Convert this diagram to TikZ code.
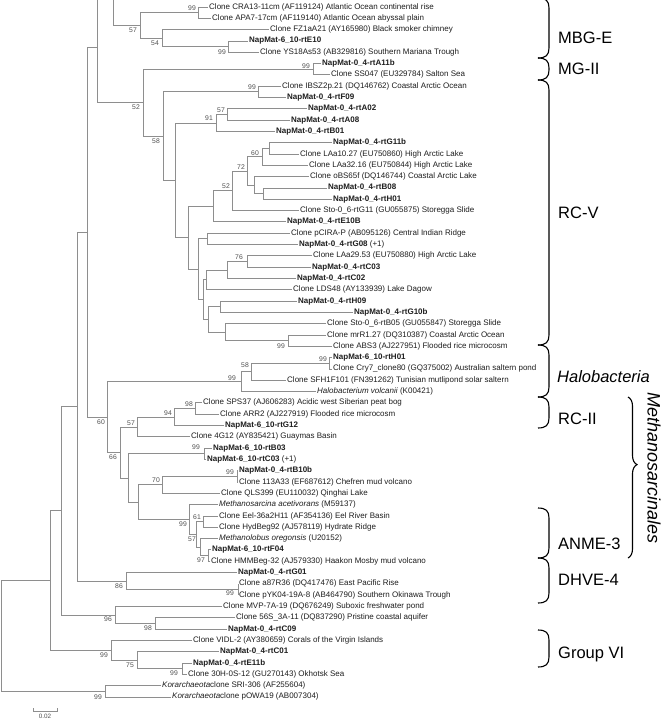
\documentclass[tikz,border=0pt]{standalone}
\usepackage{fontspec}
\setmainfont{Liberation Sans}
\usetikzlibrary{decorations.pathreplacing}
\definecolor{branch}{HTML}{8E8E8E}
\definecolor{labtxt}{HTML}{1E1E1E}
\definecolor{bstxt}{HTML}{505050}
\begin{document}
\begin{tikzpicture}[x=1pt,y=-1pt,
  br/.style={draw=branch, line width=0.8pt},
  leaf/.style={anchor=west, inner sep=1pt, font=\fontsize{8}{9}\selectfont, text=labtxt},
  nap/.style={leaf, font=\fontsize{8}{9}\selectfont\bfseries},
  bs/.style={anchor=east, inner sep=0pt, font=\fontsize{6.8}{7}\selectfont, text=bstxt},
  grp/.style={anchor=west, inner sep=0pt, font=\fontsize{16.5}{17}\selectfont, text=black},
  brk/.style={draw=black, line width=1.1pt},
  sbar/.style={draw=branch, line width=0.7pt}]
\useasboundingbox (0,0) rectangle (664,721);
\clip (0,0) rectangle (664,721);
\fill[white] (0,0) rectangle (664,721);

% ---------------- leaves ----------------
\node[leaf] (L1)  at (208,7)      {Clone CRA13-11cm (AF119124) Atlantic Ocean continental rise};
\node[leaf] (L2)  at (211,18.31)  {Clone APA7-17cm (AF119140) Atlantic Ocean abyssal plain};
\node[leaf] (L3)  at (269,29.62)  {Clone FZ1aA21 (AY165980) Black smoker chimney};
\node[nap]  (L4)  at (248,40.93)  {NapMat-6\_10-rtE10};
\node[leaf] (L5)  at (259,52.24)  {Clone YS18As53 (AB329816) Southern Mariana Trough};
\node[nap]  (L6)  at (321,63.55)  {NapMat-0\_4-rtA11b};
\node[leaf] (L7)  at (330,74.86)  {Clone SS047 (EU329784) Salton Sea};
\node[leaf] (L8)  at (281,86.17)  {Clone IBSZ2p.21 (DQ146762) Coastal Arctic Ocean};
\node[nap]  (L9)  at (286,97.48)  {NapMat-0\_4-rtF09};
\node[nap]  (L10) at (307,108.79) {NapMat-0\_4-rtA02};
\node[nap]  (L11) at (290,120.1)  {NapMat-0\_4-rtA08};
\node[nap]  (L12) at (275,131.41) {NapMat-0\_4-rtB01};
\node[nap]  (L13) at (332,142.72) {NapMat-0\_4-rtG11b};
\node[leaf] (L14) at (299,154.03) {Clone LAa10.27 (EU750860) High Arctic Lake};
\node[leaf] (L15) at (308,165.34) {Clone LAa32.16 (EU750844) High Arctic Lake};
\node[leaf] (L16) at (309,176.65) {Clone oBS65f (DQ146744) Coastal Arctic Lake};
\node[nap]  (L17) at (327,187.96) {NapMat-0\_4-rtB08};
\node[nap]  (L18) at (332,199.27) {NapMat-0\_4-rtH01};
\node[leaf] (L19) at (299,210.58) {Clone Sto-0\_6-rtG11 (GU055875) Storegga Slide};
\node[nap]  (L20) at (286,221.89) {NapMat-0\_4-rtE10B};
\node[leaf] (L21) at (290,233.2)  {Clone pCIRA-P (AB095126) Central Indian Ridge};
\node[leaf] (L22) at (298,244.51) {\textbf{NapMat-0\_4-rtG08} (+1)};
\node[leaf] (L23) at (312,255.82) {Clone LAa29.53 (EU750880) High Arctic Lake};
\node[nap]  (L24) at (311,267.13) {NapMat-0\_4-rtC03};
\node[nap]  (L25) at (296,278.44) {NapMat-0\_4-rtC02};
\node[leaf] (L26) at (292,289.75) {Clone LDS48 (AY133939) Lake Dagow};
\node[nap]  (L27) at (297,301.06) {NapMat-0\_4-rtH09};
\node[nap]  (L28) at (353,312.37) {NapMat-0\_4-rtG10b};
\node[leaf] (L29) at (326,323.68) {Clone Sto-0\_6-rtB05 (GU055847) Storegga Slide};
\node[leaf] (L30) at (326,334.99) {Clone mrR1.27 (DQ310387) Coastal Arctic Ocean};
\node[leaf] (L31) at (332,346.3)  {Clone ABS3 (AJ227951) Flooded rice microcosm};
\node[nap]  (L32) at (332,357.61) {NapMat-6\_10-rtH01};
\node[leaf] (L33) at (332,368.92) {Clone Cry7\_clone80 (GQ375002) Australian saltern pond};
\node[leaf] (L34) at (286,380.23) {Clone SFH1F101 (FN391262) Tunisian mutlipond solar saltern};
\node[leaf] (L35) at (316,391.54) {\textit{Halobacterium volcanii} (K00421)};
\node[leaf] (L36) at (202,402.85) {Clone SPS37 (AJ606283) Acidic west Siberian peat bog};
\node[leaf] (L37) at (219,414.16) {Clone ARR2 (AJ227919) Flooded rice microcosm};
\node[nap]  (L38) at (224,425.47) {NapMat-6\_10-rtG12};
\node[leaf] (L39) at (190,436.78) {Clone 4G12 (AY835421) Guaymas Basin};
\node[nap]  (L40) at (212,448.09) {NapMat-6\_10-rtB03};
\node[leaf] (L41) at (206,459.4)  {\textbf{NapMat-6\_10-rtC03} (+1)};
\node[nap]  (L42) at (238,470.71) {NapMat-0\_4-rtB10b};
\node[leaf] (L43) at (238,482.02) {Clone 113A33 (EF687612) Chefren mud volcano};
\node[leaf] (L44) at (220,493.33) {Clone QLS399 (EU110032) Qinghai Lake};
\node[leaf] (L45) at (218,504.64) {\textit{Methanosarcina acetivorans} (M59137)};
\node[leaf] (L46) at (218,515.95) {Clone Eel-36a2H11 (AF354136) Eel River Basin};
\node[leaf] (L47) at (218,527.26) {Clone HydBeg92 (AJ578119) Hydrate Ridge};
\node[leaf] (L48) at (218,538.57) {\textit{Methanolobus oregonsis} (U20152)};
\node[nap]  (L49) at (211,549.88) {NapMat-6\_10-rtF04};
\node[leaf] (L50) at (210,561.19) {Clone HMMBeg-32 (AJ579330) Haakon Mosby mud volcano};
\node[nap]  (L51) at (237,572.5)  {NapMat-0\_4-rtG01};
\node[leaf] (L52) at (238,583.81) {Clone a87R36 (DQ417476) East Pacific Rise};
\node[leaf] (L53) at (238,595.12) {Clone pYK04-19A-8 (AB464790) Southern Okinawa Trough};
\node[leaf] (L54) at (222,606.43) {Clone MVP-7A-19 (DQ676249) Suboxic freshwater pond};
\node[leaf] (L55) at (235,617.74) {Clone 56S\_3A-11 (DQ837290) Pristine coastal aquifer};
\node[nap]  (L56) at (227,629.05) {NapMat-0\_4-rtC09};
\node[leaf] (L57) at (192,640.36) {Clone VIDL-2 (AY380659) Corals of the Virgin Islands};
\node[nap]  (L58) at (219,651.67) {NapMat-0\_4-rtC01};
\node[nap]  (L59) at (192,662.98) {NapMat-0\_4-rtE11b};
\node[leaf] (L60) at (187,674.29) {Clone 30H-0S-12 (GU270143) Okhotsk Sea};
\node[leaf] (L61) at (161,685.6)  {\textit{Korarchaeota}clone SRI-306 (AF255604)};
\node[leaf] (L62) at (171,696.91) {\textit{Korarchaeota}clone pOWA19 (AB007304)};

% ---------------- internal nodes ----------------
\coordinate (n99a) at (198,12.66);
\coordinate (n99b) at (228,46.59);
\coordinate (n54)  at (162,38.1);
\coordinate (n57a) at (140,25.38);
\coordinate (nX)   at (113,-8.65);
\coordinate (nTop) at (97,47);
\coordinate (n99c) at (313,69.2);
\coordinate (n99d) at (258,91.8);
\coordinate (n57b) at (227,114.45);
\coordinate (n91)  at (216,122.93);
\coordinate (nA)   at (269,148.38);
\coordinate (n60)  at (262,156.86);
\coordinate (nB)   at (263,193.6);
\coordinate (nC)   at (254,185.1);
\coordinate (n72)  at (247,170.98);
\coordinate (n52b) at (232,190.78);
\coordinate (nD2)  at (213,206.3);
\coordinate (nD)   at (207,238.86);
\coordinate (n76)  at (247,261.48);
\coordinate (nE)   at (227,269.96);
\coordinate (nF)   at (206,279.86);
\coordinate (nG1)  at (220,306.7);
\coordinate (n99e) at (288,340.65);
\coordinate (nG2)  at (225,332.17);
\coordinate (nG)   at (208,319.4);
\coordinate (nH)   at (203,299.6);
\coordinate (nI)   at (198,269.2);
\coordinate (nJ)   at (188,237.8);
\coordinate (nK)   at (175,180.4);
\coordinate (n58)  at (163,136.1);
\coordinate (n52a) at (143,102.65);
\coordinate (n99f) at (329,363.27);
\coordinate (n58b) at (251,371.75);
\coordinate (n99g) at (241,381.65);
\coordinate (n98)  at (195,408.5);
\coordinate (n94)  at (174,417);
\coordinate (n57c) at (137,426.9);
\coordinate (n99h) at (204,453.75);
\coordinate (n99i) at (237,476.37);
\coordinate (n70)  at (162,484.85);
\coordinate (n61)  at (203,521.6);
\coordinate (n97)  at (208,555.5);
\coordinate (n57d) at (200,547.04);
\coordinate (nY)   at (196,534.3);
\coordinate (n99j) at (189,519.5);
\coordinate (nL)   at (138,502.2);
\coordinate (nM)   at (128,478);
\coordinate (n66)  at (120,452.45);
\coordinate (n60b) at (107,417.05);
\coordinate (nN)   at (87,232);
\coordinate (n99k) at (238,589.47);
\coordinate (n86)  at (126,581);
\coordinate (nO)   at (77,406.5);
\coordinate (n98b) at (155,623.4);
\coordinate (n96)  at (115,614.9);
\coordinate (nP)   at (61,510.7);
\coordinate (n99l) at (182,668.6);
\coordinate (n75)  at (137,660.1);
\coordinate (n99m) at (111,650.2);
\coordinate (nQ)   at (50,580.45);
\coordinate (n99n) at (105,691.25);
\coordinate (root) at (1.5,635.85);

% ---------------- branches ----------------
\foreach \p/\c in {n99a/L1.west, n99a/L2.west, n54/L3.west, n99b/L4.west, n99b/L5.west,
  n54/n99b, n57a/n99a, n57a/n54, nX/n57a, nTop/nX, nTop/n52a,
  n99c/L6.west, n99c/L7.west, n52a/n99c, n52a/n58,
  n99d/L8.west, n99d/L9.west, n58/n99d, n58/nK,
  n57b/L10.west, n57b/L11.west, n91/n57b, n91/L12.west, nK/n91, nK/nJ,
  nA/L13.west, nA/L14.west, n60/nA, n60/L15.west, nC/L16.west, nC/nB,
  nB/L17.west, nB/L18.west, n72/n60, n72/nC, n52b/n72, n52b/L19.west,
  nD2/n52b, nD2/L20.west, nJ/nD2, nJ/nI,
  nD/L21.west, nD/L22.west, nI/nD, nI/nH,
  n76/L23.west, n76/L24.west, nE/n76, nE/L25.west, nF/nE, nF/L26.west,
  nG1/L27.west, nG1/L28.west, nG2/L29.west, nG2/n99e, n99e/L30.west, n99e/L31.west,
  nG/nG1, nG/nG2, nH/nF, nH/nG,
  n99f/L32.west, n99f/L33.west, n58b/n99f, n58b/L34.west, n99g/n58b, n99g/L35.west,
  n98/L36.west, n98/L37.west, n94/n98, n94/L38.west, n57c/n94, n57c/L39.west,
  n99h/L40.west, n99h/L41.west, n99i/L42.west, n99i/L43.west, n70/n99i, n70/L44.west,
  n61/L46.west, n61/L47.west, n97/L49.west, n97/L50.west, n57d/L48.west, n57d/n97,
  nY/n61, nY/n57d, n99j/L45.west, n99j/nY, nL/n70, nL/n99j, nM/n99h, nM/nL,
  n66/n57c, n66/nM, n60b/n99g, n60b/n66, nN/nTop, nN/n60b,
  n99k/L52.west, n99k/L53.west, n86/L51.west, n86/n99k, nO/nN, nO/n86,
  n98b/L55.west, n98b/L56.west, n96/L54.west, n96/n98b, nP/nO, nP/n96,
  n99l/L59.west, n99l/L60.west, n75/L58.west, n75/n99l, n99m/L57.west, n99m/n75,
  nQ/nP, nQ/n99m, n99n/L61.west, n99n/L62.west, root/nQ, root/n99n}
  {\draw[br] (\p) |- (\c);}

% ---------------- bootstrap values ----------------
\foreach \v/\x/\y in {99/196/8, 57/137/30, 54/159/43, 99/226/52, 99/310/66,
  52/140/107, 99/256/87, 58/160/141, 57/225/110, 91/213/118, 60/259/153,
  72/245/167, 52/230/186, 76/243/257, 99/285/346, 99/327/359, 58/249/365,
  99/236/378, 98/193/404, 94/172/413, 57/135/423, 60/105/422, 66/117/457,
  99/200/447, 99/234/472, 70/160/480, 61/201/517, 99/187/524, 57/196/539,
  97/205/560, 86/123/586, 99/234/593, 96/112/619, 98/152/628, 99/108/655,
  75/134/665, 99/178/673, 99/102/697}
  {\node[bs] at (\x,\y) {\v};}

% ---------------- scale bar ----------------
\coordinate (sbL) at (33,711);
\coordinate (sbR) at (57,711);
\draw[sbar] ([yshift=3pt]sbL) -- (sbL) -- (sbR) -- ([yshift=3pt]sbR);
\node[inner sep=0pt, font=\fontsize{6.3}{7}\selectfont, text=bstxt] (sbT) at (45,716.3) {0.02};

% ---------------- group brackets ----------------
\foreach \a/\b in {-2/58, 58/80, 80/345, 345/397, 397/428, 508/558, 558/603, 630/667}
  {\draw[brk] (538,\a) .. controls (546,\a) and (549,{\a+3}) .. (549,{\a+10})
     -- (549,{\b-10}) .. controls (549,{\b-3}) and (546,\b) .. (538,\b);}
\node[grp] (gMBGE) at (558,38)  {MBG-E};
\node[grp] (gMGII) at (558,69)  {MG-II};
\node[grp] (gRCV)  at (558,213) {RC-V};
\node[grp] (gHalo) at (557,377) {\itshape Halobacteria};
\node[grp] (gRCII) at (558,419) {RC-II};
\node[grp] (gANME) at (558,544) {ANME-3};
\node[grp] (gDHVE) at (558,580) {DHVE-4};
\node[grp] (gVI)   at (558,654) {Group VI};

\draw[brk, decorate, decoration={brace, amplitude=9pt, aspect=0.42}] (628,397) -- (628,558);
\node[inner sep=0pt, font=\fontsize{18}{19}\selectfont\itshape, rotate=-90] (gMeth) at (654,468) {Methanosarcinales};
\end{tikzpicture}
\end{document}
